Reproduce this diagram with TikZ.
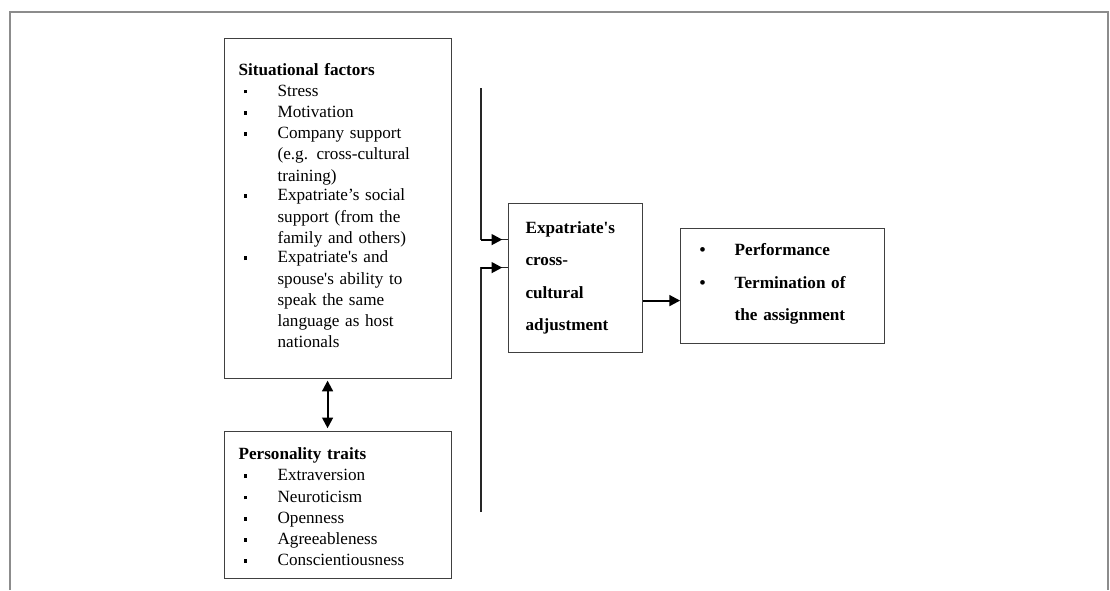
\documentclass[tikz,border=0pt]{standalone}
\usepackage{fontspec}
\setmainfont{Liberation Serif}
\usetikzlibrary{positioning, arrows.meta}

% 箇条書き（四角・丸）
\newcommand{\sqitem}[1]{\noindent\hspace*{3.5pt}\makebox[23.8pt][l]{\rule[2pt]{2.6pt}{2.6pt}}\parbox[t]{110pt}{\raggedright #1\strut}\par}
\newcommand{\rditem}[1]{\noindent\makebox[24.5pt][l]{\textbullet}\parbox[t]{92pt}{\raggedright #1\strut}\par}

\begin{document}
\begin{tikzpicture}[
      x=0.7pt, y=-0.7pt,
      % 枠の基本スタイル設定
      box/.style={rectangle, draw=black!75, line width=0.8pt, inner ysep=0pt, font=\fontsize{12}{14.85}\selectfont},
      % 太字で行間の広い枠
      wbox/.style={box, font=\fontsize{12}{22.75}\selectfont\bfseries},
      % 矢印のスタイル設定
      line/.style={draw, line width=1.5pt, -{Triangle[length=7.5pt, width=7.5pt]}},
      dline/.style={draw, line width=1.5pt, {Triangle[length=7.5pt, width=7.5pt]}-{Triangle[length=7.5pt, width=7.5pt]}},
      vline/.style={draw, black!85, line width=0.8pt}
    ]
    \useasboundingbox (0,0) rectangle (1110,590);

    % --- 外枠 ---
    \draw [black!45, line width=1.4pt] (10,590) -- (10,12) -- (1108,12) -- (1108,590);

    % --- 左側：状況要因と性格特性 ---
    \node [box, anchor=north west, inner xsep=9.8pt, text width=139.3pt, minimum height=238pt] (situ) at (224,38) {%
      \noindent\textbf{Situational factors}\par
      \sqitem{Stress}
      \sqitem{Motivation}
      \sqitem{Company support\\(e.g. cross-cultural\\training)}
      \sqitem{Expatriate's social\\support (from the\\family and others)}
      \sqitem{Expatriate\textquotesingle s and\\spouse\textquotesingle s ability to\\speak the same\\language as host\\nationals}};
    \node [box, below=36.4pt of situ, inner xsep=9.8pt, text width=139.3pt, text height=19.6pt, text depth=83.3pt] (pers) {%
      \noindent\textbf{Personality traits}\par
      \sqitem{Extraversion}
      \sqitem{Neuroticism}
      \sqitem{Openness}
      \sqitem{Agreeableness}
      \sqitem{Conscientiousness}};

    % --- 中央：異文化適応 ---
    \node [wbox, anchor=north west, inner xsep=11.9pt, text width=70pt, minimum height=104.3pt] (adj) at (508,203) {\raggedright Expatriate\textquotesingle s\\cross-\\cultural\\adjustment};

    % --- 右側：成果 ---
    \node [wbox, right=25.9pt of adj, yshift=-5.6pt, inner xsep=13.3pt, text width=116.2pt, text height=18.9pt, text depth=61.6pt] (res) {%
      \rditem{Performance}
      \rditem{Termination of\\the assignment}};

    % --- 矢印の描画 ---
    \coordinate (ltop) at (481,88);
    \coordinate (lbot) at (481,512);
    \coordinate (in1) at ([yshift=26.95pt]adj.west);
    \coordinate (in2) at ([yshift=7.35pt]adj.west);
    \coordinate (aout) at ([yshift=-15.75pt]adj.east);
    \coordinate (sa) at ([xshift=-7.35pt]situ.south);

    \draw [dline, shorten <=1pt, shorten >=2pt] (sa) -- (sa |- pers.north);
    \draw [vline] (ltop) |- (in1);
    \draw [line, shorten >=4pt] (ltop |- in1) -- (in1);
    \draw [vline] (lbot) |- (in2);
    \draw [line, shorten >=4pt] (lbot |- in2) -- (in2);
    \draw [line] (aout) -- (aout -| res.west);

    \end{tikzpicture}
\end{document}
